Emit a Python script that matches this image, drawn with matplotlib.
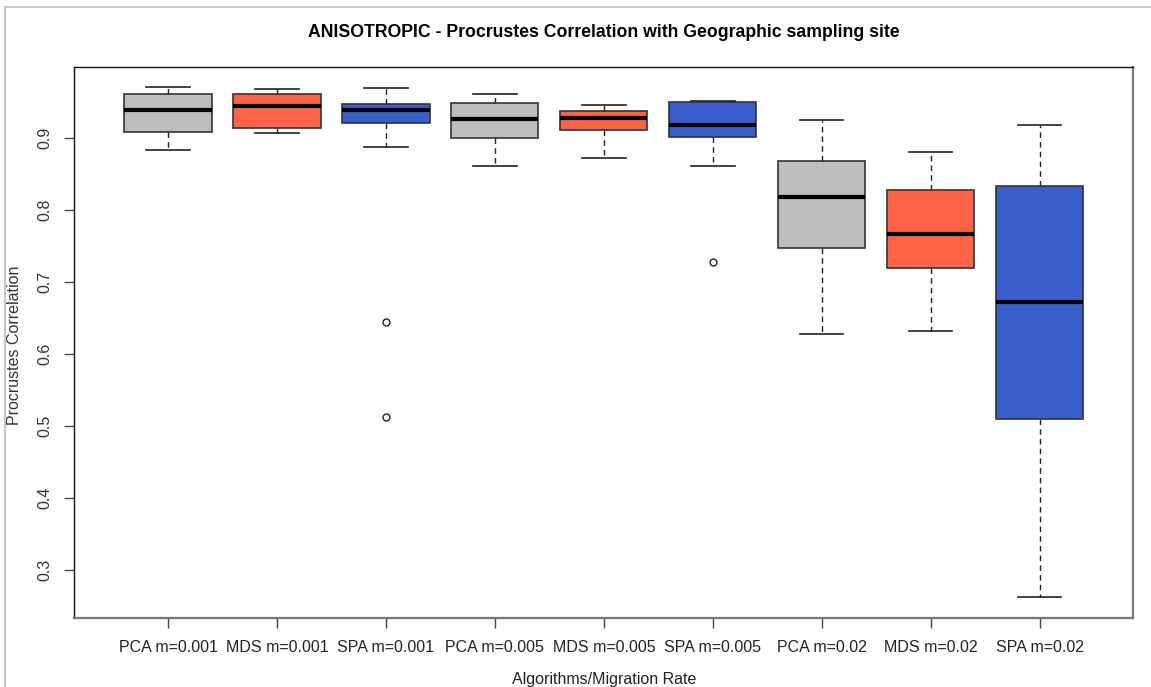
import matplotlib
matplotlib.use('Agg')
import matplotlib.pyplot as plt
from matplotlib.lines import Line2D
import numpy as np

# box statistics
labels = ["PCA m=0.001", "MDS m=0.001", "SPA m=0.001",
          "PCA m=0.005", "MDS m=0.005", "SPA m=0.005",
          "PCA m=0.02", "MDS m=0.02", "SPA m=0.02"]
whis_hi = [0.970, 0.967, 0.969, 0.960, 0.946, 0.951, 0.924, 0.880, 0.917]
q3 = [0.961, 0.960, 0.947, 0.948, 0.937, 0.950, 0.867, 0.828, 0.833]
median = [0.939, 0.944, 0.938, 0.926, 0.927, 0.918, 0.818, 0.767, 0.672]
q1 = [0.908, 0.913, 0.921, 0.899, 0.910, 0.901, 0.747, 0.719, 0.510]
whis_lo = [0.883, 0.907, 0.887, 0.861, 0.872, 0.860, 0.628, 0.632, 0.263]
outliers = [[], [], [0.644, 0.513], [], [], [0.727], [], [], []]
colors = ["#BEBEBE", "#FF6347", "#3A5FCD"] * 3

stats = []
for i in range(len(labels)):
    stats.append({"med": median[i], "q1": q1[i], "q3": q3[i],
                  "whislo": whis_lo[i], "whishi": whis_hi[i],
                  "fliers": outliers[i], "label": labels[i]})

plt.rcParams['font.family'] = ['Liberation Sans', 'DejaVu Sans']

fig = plt.figure(figsize=(11.51, 6.87), dpi=100)
ax = fig.add_axes([0.0646, 0.1009, 0.92, 0.8020])

pos = np.arange(1, len(labels) + 1)
bp = ax.bxp(stats, positions=pos, widths=0.8, patch_artist=True,
            showfliers=True,
            boxprops=dict(edgecolor="#333333", linewidth=1.2),
            medianprops=dict(color="black", linewidth=3),
            whiskerprops=dict(color="#222222", linewidth=1, linestyle=(0, (4, 3))),
            capprops=dict(color="#222222", linewidth=1.2),
            flierprops=dict(marker="o", markerfacecolor="white",
                            markeredgecolor="#222222", markersize=5,
                            markeredgewidth=1))
for patch, c in zip(bp["boxes"], colors):
    patch.set_facecolor(c)
for cap in bp["caps"]:
    x = cap.get_xdata()
    mid = (x[0] + x[1]) / 2
    cap.set_xdata([mid - 0.2, mid + 0.2])

ax.set_xlim(0.14, 9.86)
ax.set_ylim(0.2338, 0.9985)
ax.set_xticks(pos)
ax.set_xticklabels(labels, fontsize=11.5)
ax.set_yticks([0.3, 0.4, 0.5, 0.6, 0.7, 0.8, 0.9])
ax.set_yticklabels(["0.3", "0.4", "0.5", "0.6", "0.7", "0.8", "0.9"],
                   rotation=90, va="center", fontsize=11.5, color="#333333")
ax.tick_params(axis="both", length=7, width=1, color="#444444", pad=9)
ax.tick_params(axis="x", labelcolor="#222222")

for side in ["left", "top"]:
    ax.spines[side].set_color("#111111")
    ax.spines[side].set_linewidth(1)
for side in ["right", "bottom"]:
    ax.spines[side].set_color("#777777")
    ax.spines[side].set_linewidth(1.6)

fig.text(0.5245, 0.952, "ANISOTROPIC - Procrustes Correlation with Geographic sampling site",
         ha="center", va="center", fontsize=12.7, fontweight="bold")
fig.text(0.5245, 0.011, "Algorithms/Migration Rate", ha="center", va="center",
         fontsize=11.5, color="#222222")
fig.text(0.013, 0.497, "Procrustes Correlation", ha="center", va="center",
         rotation=90, fontsize=11.5, color="#333333")

# screenshot frame lines
fig.add_artist(Line2D([0.004, 1.0], [0.990, 0.990], color="#C8C8C8", linewidth=1.5))
fig.add_artist(Line2D([0.004, 0.004], [0.0, 0.990], color="#C8C8C8", linewidth=1.5))

fig.savefig("out.png", dpi=100)
